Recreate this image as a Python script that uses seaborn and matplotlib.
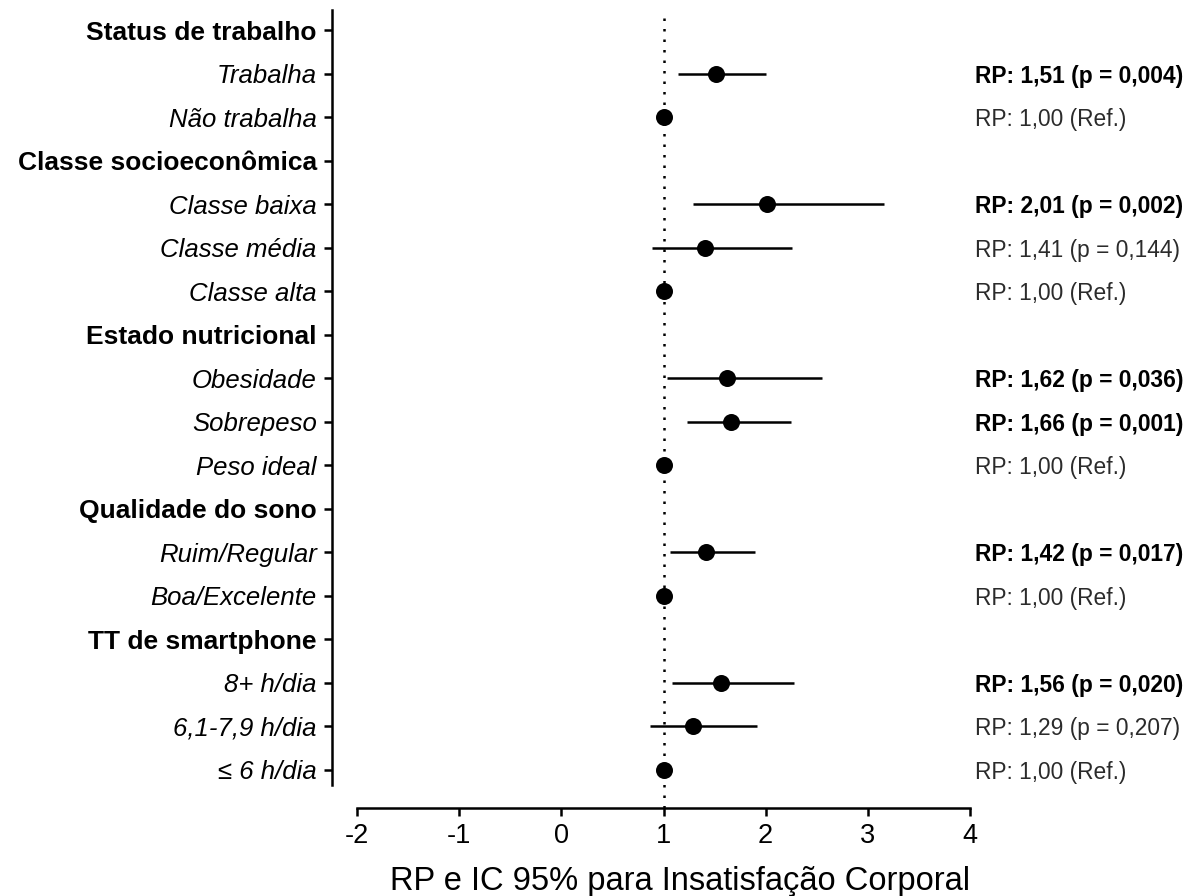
import numpy as np
import pandas as pd
import matplotlib
matplotlib.use("Agg")
import matplotlib.pyplot as plt
import matplotlib.transforms as mtransforms
import seaborn as sns

# Rows of the forest plot, top to bottom (headers have no estimate)
labels = [
    "Status de trabalho", "Trabalha", "Não trabalha",
    "Classe socioeconômica", "Classe baixa", "Classe média", "Classe alta",
    "Estado nutricional", "Obesidade", "Sobrepeso", "Peso ideal",
    "Qualidade do sono", "Ruim/Regular", "Boa/Excelente",
    "TT de smartphone", "8+ h/dia", "6,1-7,9 h/dia", "≤ 6 h/dia",
]
is_header = [True, False, False,
             True, False, False, False,
             True, False, False, False,
             True, False, False,
             True, False, False, False]
rp = [np.nan, 1.51, 1.00,
      np.nan, 2.01, 1.41, 1.00,
      np.nan, 1.62, 1.66, 1.00,
      np.nan, 1.42, 1.00,
      np.nan, 1.56, 1.29, 1.00]
ci_low = [np.nan, 1.14, 1.00,
          np.nan, 1.29, 0.89, 1.00,
          np.nan, 1.03, 1.23, 1.00,
          np.nan, 1.06, 1.00,
          np.nan, 1.08, 0.87, 1.00]
ci_high = [np.nan, 2.00, 1.00,
           np.nan, 3.16, 2.26, 1.00,
           np.nan, 2.55, 2.25, 1.00,
           np.nan, 1.90, 1.00,
           np.nan, 2.28, 1.92, 1.00]
annot = ["", "RP: 1,51 (p = 0,004)", "RP: 1,00 (Ref.)",
         "", "RP: 2,01 (p = 0,002)", "RP: 1,41 (p = 0,144)", "RP: 1,00 (Ref.)",
         "", "RP: 1,62 (p = 0,036)", "RP: 1,66 (p = 0,001)", "RP: 1,00 (Ref.)",
         "", "RP: 1,42 (p = 0,017)", "RP: 1,00 (Ref.)",
         "", "RP: 1,56 (p = 0,020)", "RP: 1,29 (p = 0,207)", "RP: 1,00 (Ref.)"]
significant = [False, True, False,
               False, True, False, False,
               False, True, True, False,
               False, True, False,
               False, True, False, False]
x_ticks = [-2, -1, 0, 1, 2, 3, 4]

df = pd.DataFrame({"label": labels, "rp": rp, "lo": ci_low, "hi": ci_high})
df["pos"] = np.arange(len(df))

sns.set_style("ticks")
plt.rcParams["font.family"] = ["Liberation Sans", "DejaVu Sans"]
plt.rcParams.update({"text.color": "black", "axes.labelcolor": "black",
                     "xtick.color": "black", "ytick.color": "black",
                     "axes.edgecolor": "black"})

fig = plt.figure(figsize=(11.95, 8.96), dpi=100)
ax = fig.add_axes([357 / 1195, 1 - 785 / 896, (970 - 357) / 1195, (785 - 10) / 896])

# reference line at RP = 1
ax.axvline(1, ymin=-0.03, ymax=1, color="black", linestyle=(0, (1, 3.2)),
           linewidth=1.8, clip_on=False, zorder=1)

est = df.dropna()
ax.hlines(est["pos"], est["lo"], est["hi"], color="black", linewidth=1.8, zorder=2)
sns.scatterplot(data=est, x="rp", y="pos", ax=ax, color="black", s=150,
                edgecolor="black", linewidth=0, zorder=3, legend=False)

ax.set_xlim(-2, 4)
ax.set_ylim(17.35, -0.46)

sns.despine(ax=ax)
ax.spines["left"].set_position(("outward", 18))
ax.spines["bottom"].set_position(("outward", 16.5))
for s in ["left", "bottom"]:
    ax.spines[s].set_linewidth(1.8)
ax.tick_params(axis="both", length=6, width=1.8, color="black")
ax.tick_params(axis="y", pad=5, labelsize=18.5)
ax.tick_params(axis="x", pad=5, labelsize=19.5)

ax.set_xticks(x_ticks)
ax.set_xticklabels([str(t) for t in x_ticks])
ax.set_yticks(df["pos"])
ax.set_yticklabels(labels)
for tl, hdr in zip(ax.get_yticklabels(), is_header):
    if hdr:
        tl.set_fontweight("bold")
        tl.set_fontsize(19)
    else:
        tl.set_fontstyle("italic")

ax.set_xlabel("RP e IC 95% para Insatisfação Corporal", fontsize=23.5)
ax.xaxis.set_label_coords(0.527, -0.105)
ax.set_ylabel("")

# RP annotations on the right
trans = mtransforms.blended_transform_factory(fig.transFigure, ax.transData)
for pos, txt, sig in zip(df["pos"], annot, significant):
    if txt:
        ax.text(975 / 1195, pos, txt, transform=trans,
                fontsize=16.4, va="center_baseline", ha="left",
                fontweight="bold" if sig else "normal",
                color="black" if sig else "#2b2b2b")

fig.savefig("out.png", dpi=100)
